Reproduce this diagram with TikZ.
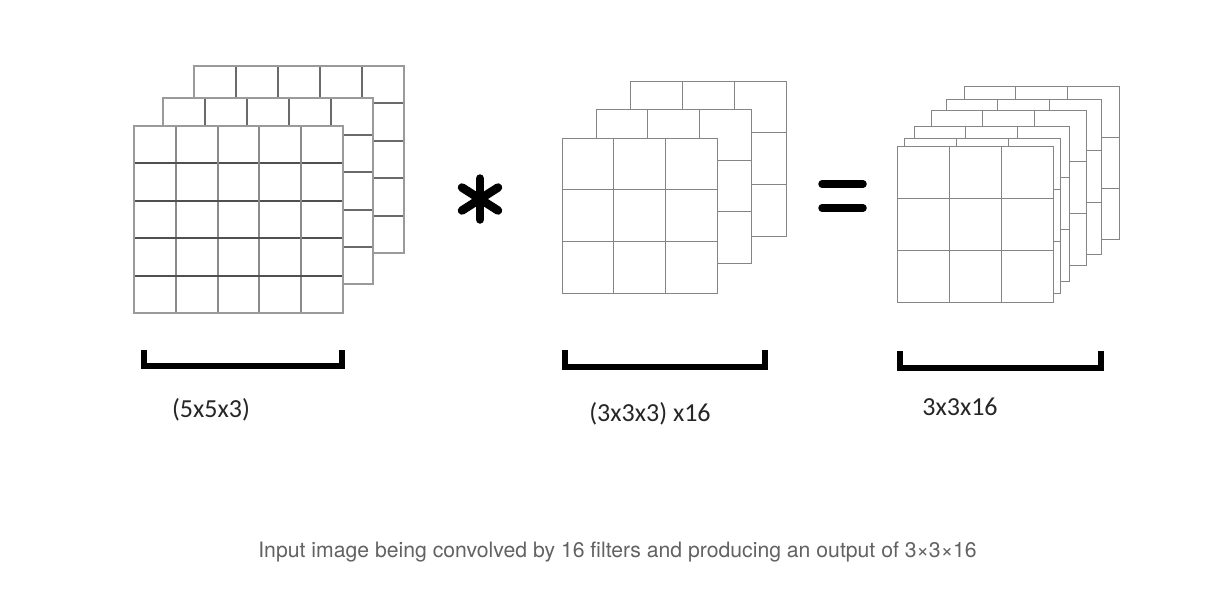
\documentclass[tikz,border=0pt]{standalone}
\usepackage{fontspec}
\setmainfont{Carlito}
\newfontfamily\capfont{TeX Gyre Heros}
\definecolor{gborder}{HTML}{9A9A9A}
\definecolor{gdark}{HTML}{505050}
\definecolor{gmid}{HTML}{8A8A8A}
\definecolor{gthin}{HTML}{858585}
\definecolor{captc}{HTML}{626262}
\newcommand\gridlayer[8]{%
  \fill[white] (#1,#2) rectangle ++(#3,#4);
  \pgfmathtruncatemacro\gridlast{#5-1}%
  \foreach \k in {1,...,\gridlast}{
    \draw[#7] ({#1+\k*#3/#5},#2) -- ++(0,#4);
    \draw[#8] (#1,{#2+\k*#4/#5}) -- ++(#3,0);
  }
  \draw[#6] (#1,#2) rectangle ++(#3,#4);
}
\tikzset{
  bigborder/.style={draw=gborder, line width=2.2pt},
  bigvert/.style={draw=gmid, line width=2pt},
  bighoriz/.style={draw=gdark, line width=2pt},
  backline/.style={draw=gdark!85!white, line width=2pt},
  thinline/.style={draw=gthin, line width=0.95pt},
  bracketline/.style={draw=black, line width=6pt},
  opline/.style={draw=black, line cap=round},
  dimlabel/.style={font=\fontsize{26}{30}\selectfont, text=black!85, inner sep=0pt},
  captext/.style={font=\capfont\fontsize{21.2}{26}\selectfont, text=captc, inner sep=0pt}
}
\begin{document}
\begin{tikzpicture}[x=1pt,y=-1pt]
\useasboundingbox (0,0) rectangle (1206,608);
\fill[white] (0,0) rectangle (1206,608);
% left stack (5x5x3)
\gridlayer{194}{66}{210}{187}{5}{bigborder}{backline}{backline}
\gridlayer{163}{98}{210}{186}{5}{bigborder}{backline}{backline}
\gridlayer{134}{126}{209}{187}{5}{bigborder}{bigvert}{bighoriz}
% middle stack
\gridlayer{630}{81}{156}{155}{3}{thinline}{thinline}{thinline}
\gridlayer{596}{109}{155}{154}{3}{thinline}{thinline}{thinline}
\gridlayer{562}{138}{155}{155}{3}{thinline}{thinline}{thinline}
% right stack
\gridlayer{964}{86}{155}{153}{3}{thinline}{thinline}{thinline}
\gridlayer{946}{99}{155}{155}{3}{thinline}{thinline}{thinline}
\gridlayer{931}{110}{155}{155}{3}{thinline}{thinline}{thinline}
\gridlayer{914}{126}{155}{155}{3}{thinline}{thinline}{thinline}
\gridlayer{904}{138}{156}{155}{3}{thinline}{thinline}{thinline}
\gridlayer{897}{146}{156}{156}{3}{thinline}{thinline}{thinline}
% operators
\coordinate (ast) at (480,199);
\draw[opline, line width=8.5pt] ([yshift=-20.5pt]ast) -- ([yshift=20.5pt]ast);
\draw[opline, line width=8.5pt] ([shift={(-18,-11.5)}]ast) -- ([shift={(18,11.5)}]ast);
\draw[opline, line width=8.5pt] ([shift={(18,-11.5)}]ast) -- ([shift={(-18,11.5)}]ast);
\coordinate (eqA) at (822,184);
\coordinate (eqB) at (863,184);
\coordinate (eqC) at (822,208);
\coordinate (eqD) at (863,208);
\draw[opline, line width=7.5pt] (eqA) -- (eqB);
\draw[opline, line width=7.5pt] (eqC) -- (eqD);
% brackets
\draw[bracketline] (143.5,350) -- (143.5,366) -- (342,366) -- (342,350);
\draw[bracketline] (564.5,350) -- (564.5,366.5) -- (764.5,366.5) -- (764.5,350);
\draw[bracketline] (900,351) -- (900,368) -- (1100.5,368) -- (1100.5,351);
% labels
\node[dimlabel] (lblA) at (211,410) {(5x5x3)};
\node[dimlabel] (lblB) at (650,414) {(3x3x3) x16};
\node[dimlabel] (lblC) at (960,407) {3x3x16};
\node[captext] (cap) at (617.5,552) {Input image being convolved by 16 filters and producing an output of 3×3×16};
\end{tikzpicture}
\end{document}
